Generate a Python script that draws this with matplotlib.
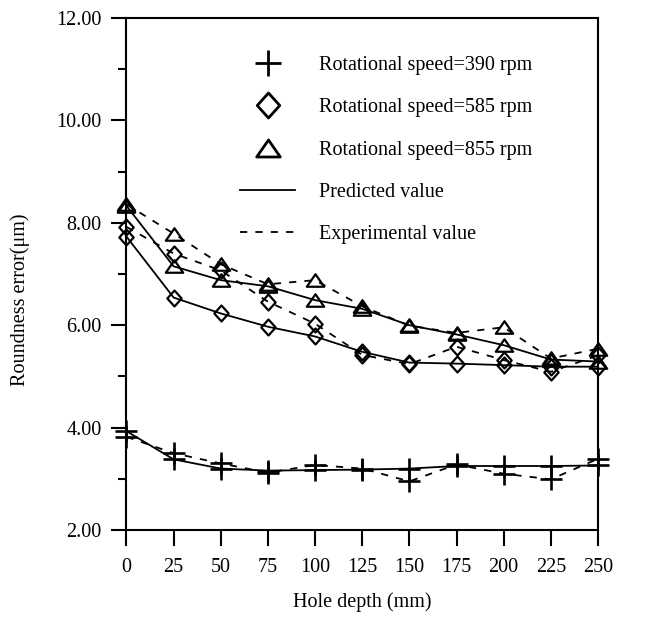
import matplotlib
matplotlib.use("Agg")
import matplotlib.pyplot as plt
from matplotlib.lines import Line2D
from matplotlib.path import Path
from matplotlib.ticker import MultipleLocator

plt.rcParams['font.family'] = ['Liberation Serif', 'DejaVu Serif']

depth = [0, 25, 50, 75, 100, 125, 150, 175, 200, 225, 250]

pred_390 = [3.93, 3.38, 3.20, 3.16, 3.17, 3.18, 3.20, 3.25, 3.25, 3.25, 3.26]
exp_390 = [3.82, 3.50, 3.30, 3.12, 3.27, 3.20, 2.95, 3.28, 3.10, 2.99, 3.39]

pred_585 = [7.73, 6.54, 6.23, 5.97, 5.78, 5.48, 5.27, 5.25, 5.22, 5.19, 5.19]
exp_585 = [7.92, 7.40, 7.07, 6.46, 6.03, 5.42, 5.24, 5.58, 5.32, 5.09, 5.41]

pred_855 = [8.33, 7.15, 6.88, 6.76, 6.49, 6.32, 6.00, 5.82, 5.61, 5.33, 5.29]
exp_855 = [8.36, 7.79, 7.19, 6.80, 6.88, 6.37, 5.99, 5.85, 5.96, 5.35, 5.54]

yticks = [2, 4, 6, 8, 10, 12]
ytick_labels = ["2.00", "4.00", "6.00", "8.00", "10.00", "12.00"]
legend_labels = ["Rotational speed=390 rpm", "Rotational speed=585 rpm",
                 "Rotational speed=855 rpm", "Predicted value", "Experimental value"]

diamond = Path([(0, 1), (0.9, 0), (0, -1), (-0.9, 0), (0, 1)],
               [Path.MOVETO, Path.LINETO, Path.LINETO, Path.LINETO, Path.CLOSEPOLY])
triangle = Path([(-1, -0.72), (1, -0.72), (0, 0.72), (-1, -0.72)],
                [Path.MOVETO, Path.LINETO, Path.LINETO, Path.CLOSEPOLY])

FS = 14.5
fig = plt.figure(figsize=(6.65, 6.17), dpi=100)
ax = fig.add_axes([0.1902, 0.1410, 0.7090, 0.8298])

lw = 1.3
mew = 1.6
dash = (0, (4, 4.5))
styles = [
    (pred_390, exp_390, '+', 15.5, 1.9),
    (pred_585, exp_585, diamond, 11.5, mew),
    (pred_855, exp_855, triangle, 12.5, mew),
]
for pred, exp, m, ms, ew in styles:
    for vals, ls in ((pred, '-'), (exp, dash)):
        ax.plot(depth, vals, color='black', lw=lw, linestyle=ls, marker=m,
                markersize=ms, markerfacecolor='none', markeredgewidth=ew,
                markeredgecolor='black', clip_on=False)

ax.set_xlim(0, 250)
ax.set_ylim(2, 12)
ax.set_xticks(depth)
ax.set_xticklabels([str(d) for d in depth])
ax.set_yticks(yticks)
ax.set_yticklabels(ytick_labels)
ax.yaxis.set_minor_locator(MultipleLocator(1))
ax.tick_params(axis='both', which='both', direction='out', width=1.5,
               labelsize=FS, colors='black')
ax.tick_params(axis='x', which='major', length=11.5, pad=9)
ax.tick_params(axis='y', which='major', length=11, pad=7)
ax.tick_params(axis='y', which='minor', length=6)
for s in ax.spines.values():
    s.set_linewidth(1.5)

ax.set_xlabel("Hole depth (mm)", fontsize=FS)
ax.set_ylabel("Roundness error(μm)", fontsize=FS)
ax.xaxis.set_label_coords(0.5, -0.121)
ax.yaxis.set_label_coords(-0.205, 0.45)

handles = [
    Line2D([], [], color='black', linestyle='none', marker='+', markersize=19,
           markeredgewidth=2.0),
    Line2D([], [], color='black', linestyle='none', marker=diamond, markersize=18,
           markerfacecolor='none', markeredgewidth=2.0),
    Line2D([], [], color='black', linestyle='none', marker=triangle, markersize=17,
           markerfacecolor='none', markeredgewidth=2.0),
    Line2D([], [], color='black', lw=lw, linestyle='-'),
    Line2D([], [], color='black', lw=lw, linestyle=dash),
]
leg = ax.legend(handles, legend_labels, loc='upper left',
                bbox_to_anchor=(240 / 665, 1 - 56 / 617),
                bbox_transform=fig.transFigure, frameon=False, fontsize=FS,
                handlelength=2.75, handletextpad=1.15, labelspacing=1.15,
                borderpad=0, borderaxespad=0)

fig.savefig("out.png", dpi=100, facecolor='white')
